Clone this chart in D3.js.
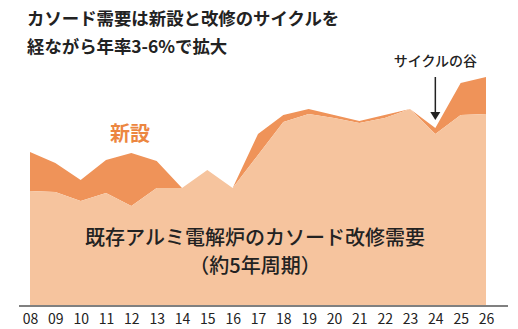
<!DOCTYPE html>
<html lang="ja">
<head>
<meta charset="utf-8">
<script src="https://cdn.jsdelivr.net/npm/d3@7"></script>
<style>
  html, body { margin: 0; padding: 0; background: #fff; }
  svg { display: block; }
  text { font-family: "Noto Sans CJK JP", "Noto Sans", sans-serif; }
</style>
</head>
<body>
<svg id="chart" width="518" height="329"></svg>
<script>
// Years shown on the axis (two-digit labels)
const years = ["08","09","10","11","12","13","14","15","16","17","18","19","20","21","22","23","24","25","26"];
// Cathode renovation demand of existing aluminium smelting cells (~5-year cycle)
const renovation = [115, 114, 105, 113, 100, 118, 118, 136, 118, 151, 184, 192, 188, 183, 188, 197, 172, 191, 192];
// Cathode demand from newly built cells, stacked on top
const newBuild   = [39, 29, 21, 33, 53, 27, 0, 0, 0, 21, 7, 5, 3, 2, 3, 0, 6, 32, 37];

const titleLines = ["カソード需要は新設と改修のサイクルを", "経ながら年率3-6%で拡大"];
const troughLabel = "サイクルの谷";
const troughYear = "24";

const svg = d3.select("#chart");
const baseY = 306;

const x = d3.scalePoint().domain(years).range([30, 486]);
const y = d3.scaleLinear().domain([0, 250]).range([baseY, 56]);

const rows = years.map((yr, i) => ({ year: yr, renovation: renovation[i], newBuild: newBuild[i] }));
const stack = d3.stack().keys(["renovation", "newBuild"]);
const layers = stack(rows);
const colors = { renovation: "#F6C49E", newBuild: "#EF9359" };

const area = d3.area()
  .x(d => x(d.data.year))
  .y0(d => y(d[0]))
  .y1(d => y(d[1]));

// Stacked areas: new build drawn first so renovation sits crisp on top of its base
svg.append("g").selectAll("path")
  .data(layers.slice().reverse())
  .join("path")
  .attr("d", area)
  .attr("fill", d => colors[d.key]);

// Baseline axis with year labels
const axis = d3.axisBottom(x).tickSize(0).tickPadding(8);
const gx = svg.append("g").attr("transform", `translate(0,${baseY})`).call(axis);
gx.select(".domain").remove();
gx.selectAll("text")
  .attr("font-size", 14)
  .attr("fill", "#222")
  .attr("font-family", "'Noto Sans CJK JP', sans-serif");
svg.append("line")
  .attr("x1", 19).attr("x2", 508)
  .attr("y1", baseY).attr("y2", baseY)
  .attr("stroke", "#808080").attr("stroke-width", 2);

// Title
svg.append("g").selectAll("text")
  .data(titleLines)
  .join("text")
  .attr("x", 27)
  .attr("y", (d, i) => 25 + i * 28)
  .attr("font-size", 17.4)
  .attr("font-weight", 700)
  .attr("fill", "#222")
  .text(d => d);

// Series labels
svg.append("text")
  .attr("x", 130).attr("y", 141)
  .attr("text-anchor", "middle")
  .attr("font-size", 20)
  .attr("font-weight", 700)
  .attr("fill", "#EC8640")
  .text("新設");

svg.append("g").selectAll("text")
  .data(["既存アルミ電解炉のカソード改修需要", "（約5年周期）"])
  .join("text")
  .attr("x", 255)
  .attr("y", (d, i) => 245 + i * 28)
  .attr("text-anchor", "middle")
  .attr("font-size", 20)
  .attr("font-weight", 500)
  .attr("fill", "#222")
  .text(d => d);

// Trough annotation with arrow
const ti = years.indexOf(troughYear);
const tx = x(troughYear);
const tipY = y(renovation[ti] + newBuild[ti]) - 8;
svg.append("text")
  .attr("x", tx).attr("y", 66)
  .attr("text-anchor", "middle")
  .attr("font-size", 14)
  .attr("font-weight", 500)
  .attr("fill", "#222")
  .text(troughLabel);
svg.append("line")
  .attr("x1", tx).attr("x2", tx)
  .attr("y1", 77).attr("y2", tipY - 6)
  .attr("stroke", "#222").attr("stroke-width", 1.5);
svg.append("path")
  .attr("d", `M${tx - 5},${tipY - 8} L${tx + 5},${tipY - 8} L${tx},${tipY} Z`)
  .attr("fill", "#222");
</script>
</body>
</html>
